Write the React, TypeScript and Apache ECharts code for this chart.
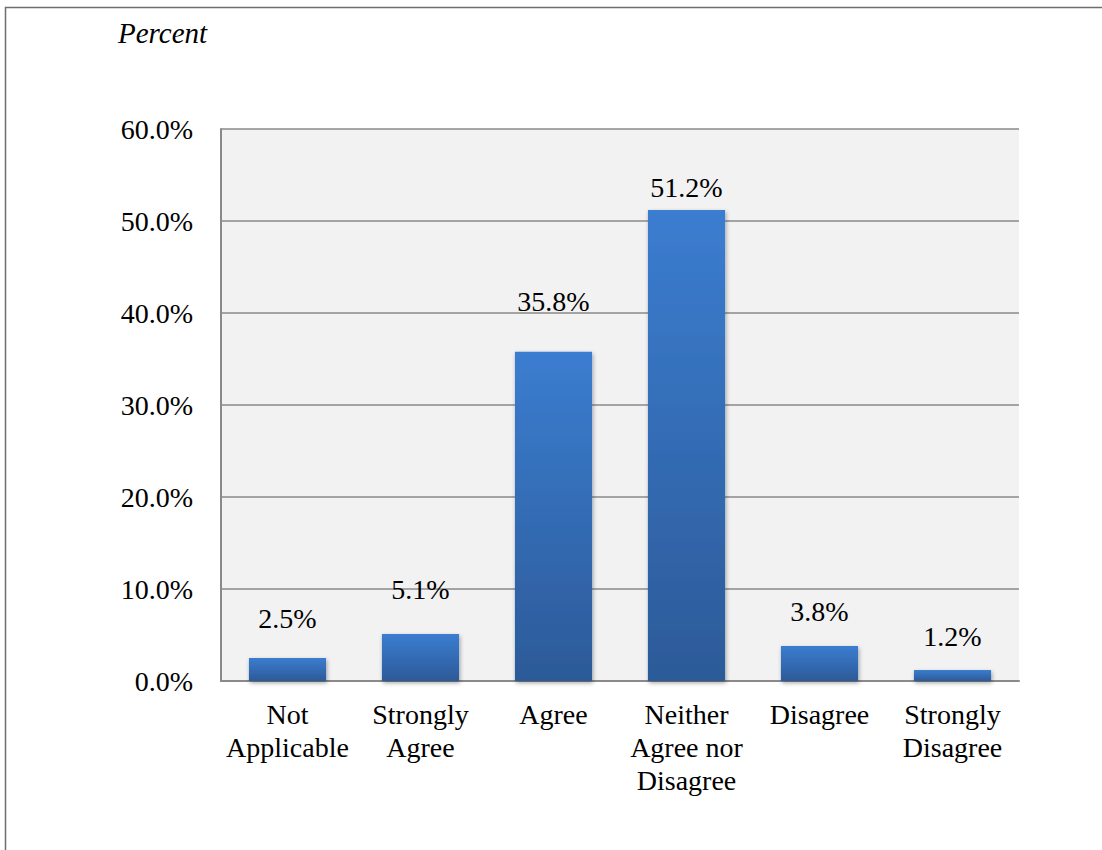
import React, { useEffect, useRef } from "react";
import * as echarts from "echarts";

const categories = ["Not\nApplicable", "Strongly\nAgree", "Agree", "Neither\nAgree nor\nDisagree", "Disagree", "Strongly\nDisagree"];
const values = [2.5, 5.1, 35.8, 51.2, 3.8, 1.2];
const valueLabels = ["2.5%", "5.1%", "35.8%", "51.2%", "3.8%", "1.2%"];
const labelGaps = [26, 31, 36, 8, 21, 19];
const yTicks = [0, 10, 20, 30, 40, 50, 60];

const FONT = "'Liberation Serif', 'Times New Roman', serif";

export default function App() {
  const ref = useRef<HTMLDivElement>(null);
  useEffect(() => {
    const chart = echarts.init(ref.current!, null, { renderer: "svg" });
    chart.setOption({
      animation: false,
      backgroundColor: "#ffffff",
      graphic: [
        {
          type: "rect",
          shape: { x: 5.5, y: 7.5, width: 1200, height: 1000 },
          style: { fill: "none", stroke: "#6e6e6e", lineWidth: 1.5 },
          silent: true,
        },
        {
          type: "text",
          left: 118,
          top: 18,
          style: { text: "Percent", font: `italic 29px ${FONT}`, fill: "#000" },
        },
      ],
      grid: { left: 221, top: 129, width: 798, height: 552, show: true, backgroundColor: "#f2f2f2", borderWidth: 0 },
      xAxis: {
        type: "category",
        data: categories,
        axisLine: { show: true, lineStyle: { color: "#8a8a8a", width: 2 } },
        axisTick: { show: false },
        axisLabel: { interval: 0, color: "#000", fontFamily: FONT, fontSize: 28, lineHeight: 33, margin: 17 },
      },
      yAxis: {
        type: "value",
        min: yTicks[0],
        max: yTicks[yTicks.length - 1],
        interval: 10,
        axisLine: { show: true, lineStyle: { color: "#8a8a8a", width: 2 } },
        axisTick: { show: false },
        splitLine: { show: true, lineStyle: { color: "#8a8a8a", width: 1.5 } },
        axisLabel: {
          color: "#000",
          fontFamily: FONT,
          fontSize: 28,
          margin: 28,
          formatter: (v: number) => v.toFixed(1) + "%",
        },
      },
      series: [
        {
          type: "bar",
          barWidth: "58%",
          data: values.map((v, i) => ({
            value: v,
            label: { distance: labelGaps[i] },
          })),
          itemStyle: {
            color: new echarts.graphic.LinearGradient(0, 0, 0, 1, [
              { offset: 0, color: "#3b7dd0" },
              { offset: 1, color: "#2c5a98" },
            ]),
            shadowColor: "rgba(0,0,0,0.35)",
            shadowBlur: 4,
            shadowOffsetX: 1,
            shadowOffsetY: 2,
          },
          label: {
            show: true,
            position: "top",
            color: "#000",
            fontFamily: FONT,
            fontSize: 28,
            formatter: (p: any) => valueLabels[p.dataIndex],
          },
        },
      ],
    });
    return () => chart.dispose();
  }, []);
  return <div ref={ref} style={{ position: "absolute", left: 0, top: 0, width: 1102, height: 850 }} />;
}
